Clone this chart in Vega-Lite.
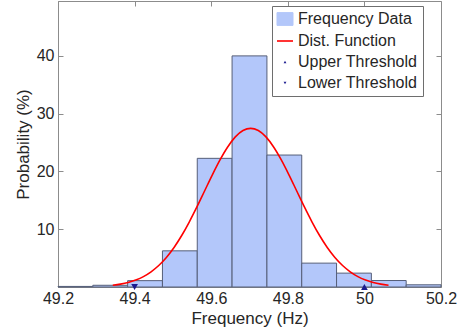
{
  "$schema": "https://vega.github.io/schema/vega-lite/v6.json",
  "width": 383,
  "height": 286,
  "autosize": {"type": "none"},
  "padding": {"left": 58, "top": 1, "right": 22, "bottom": 46},
  "background": "white",
  "config": {
    "font": "Liberation Sans",
    "view": {"stroke": "#8c8c8c", "strokeWidth": 1},
    "axis": {
      "grid": false,
      "domainColor": "#8c8c8c",
      "tickColor": "#8c8c8c",
      "labelFont": "Liberation Sans",
      "titleFont": "Liberation Sans",
      "labelFontSize": 16,
      "titleFontSize": 17,
      "titleFontWeight": "normal",
      "labelColor": "#262626",
      "titleColor": "#262626"
    },
    "legend": {
      "title": null,
      "orient": "none",
      "legendX": 214,
      "legendY": 5,
      "padding": 5,
      "strokeColor": "#6e6e6e",
      "fillColor": "white",
      "labelFont": "Liberation Sans",
      "labelFontSize": 16,
      "labelColor": "#262626",
      "labelOffset": 5,
      "rowPadding": 5,
      "symbolSize": 256
    }
  },
  "datasets": {
    "bars": [
      {"bin_start": 49.2, "bin_end": 49.2909, "pct": 0.1},
      {"bin_start": 49.2909, "bin_end": 49.3818, "pct": 0.3},
      {"bin_start": 49.3818, "bin_end": 49.4727, "pct": 1.1},
      {"bin_start": 49.4727, "bin_end": 49.5636, "pct": 6.26},
      {"bin_start": 49.5636, "bin_end": 49.6545, "pct": 22.27},
      {"bin_start": 49.6545, "bin_end": 49.7455, "pct": 40.0},
      {"bin_start": 49.7455, "bin_end": 49.8364, "pct": 22.84},
      {"bin_start": 49.8364, "bin_end": 49.9273, "pct": 4.13},
      {"bin_start": 49.9273, "bin_end": 50.0182, "pct": 2.4},
      {"bin_start": 50.0182, "bin_end": 50.1091, "pct": 1.12},
      {"bin_start": 50.1091, "bin_end": 50.2, "pct": 0.38}
    ],
    "curve": [
      {"f": 49.343, "p": 0.31}, {"f": 49.363, "p": 0.5}, {"f": 49.383, "p": 0.78},
      {"f": 49.403, "p": 1.21}, {"f": 49.423, "p": 1.8}, {"f": 49.443, "p": 2.63},
      {"f": 49.463, "p": 3.72}, {"f": 49.483, "p": 5.12}, {"f": 49.503, "p": 6.85},
      {"f": 49.523, "p": 8.91}, {"f": 49.543, "p": 11.29}, {"f": 49.563, "p": 13.9},
      {"f": 49.583, "p": 16.66}, {"f": 49.603, "p": 19.41}, {"f": 49.623, "p": 21.99},
      {"f": 49.643, "p": 24.23}, {"f": 49.663, "p": 25.98}, {"f": 49.683, "p": 27.08},
      {"f": 49.703, "p": 27.46}, {"f": 49.723, "p": 27.08}, {"f": 49.743, "p": 25.98},
      {"f": 49.763, "p": 24.23}, {"f": 49.783, "p": 21.99}, {"f": 49.803, "p": 19.41},
      {"f": 49.823, "p": 16.66}, {"f": 49.843, "p": 13.9}, {"f": 49.863, "p": 11.29},
      {"f": 49.883, "p": 8.91}, {"f": 49.903, "p": 6.85}, {"f": 49.923, "p": 5.12},
      {"f": 49.943, "p": 3.72}, {"f": 49.963, "p": 2.63}, {"f": 49.983, "p": 1.8},
      {"f": 50.003, "p": 1.21}, {"f": 50.023, "p": 0.78}, {"f": 50.043, "p": 0.5},
      {"f": 50.063, "p": 0.31}
    ],
    "thresholds": [
      {"f": 50.0, "p": 0, "series": "Upper Threshold"},
      {"f": 49.4, "p": 0, "series": "Lower Threshold"}
    ]
  },
  "resolve": {"axis": {"x": "independent", "y": "independent"}},
  "layer": [
    {
      "data": {"name": "bars"},
      "mark": {"type": "bar", "stroke": "#555e78", "strokeWidth": 1, "opacity": 1},
      "encoding": {
        "x": {
          "field": "bin_start", "type": "quantitative",
          "scale": {"domain": [49.2, 50.2], "nice": false, "zero": false},
          "axis": {"orient": "bottom", "title": "Frequency (Hz)", "values": [49.2, 49.4, 49.6, 49.8, 50, 50.2],
                   "format": "~g", "tickSize": -5, "labelPadding": 8, "titlePadding": 4, "labelFlush": false, "labelOverlap": false}
        },
        "x2": {"field": "bin_end"},
        "y": {
          "field": "pct", "type": "quantitative",
          "scale": {"domain": [0, 49.5], "nice": false},
          "axis": {"orient": "left", "title": "Probability (%)", "values": [10, 20, 30, 40],
                   "tickSize": -5, "labelPadding": 9, "titlePadding": 4}
        },
        "y2": {"datum": 0},
        "color": {
          "datum": "Frequency Data",
          "scale": {
            "domain": ["Frequency Data", "Dist. Function", "Upper Threshold", "Lower Threshold"],
            "range": ["#b3c7fa", "#ff0000", "#1a1a8e", "#1a1a8e"]
          },
          "legend": {
            "title": null,
            "labelExpr": "datum.label + '\u00a0\u00a0'",
            "encoding": {
              "symbols": {
                "shape": {"value": {"expr": "datum.value === 'Frequency Data' ? 'M-1,-0.8H1V0.8H-1Z' : datum.value === 'Dist. Function' ? 'stroke' : datum.value === 'Upper Threshold' ? 'triangle-up' : 'triangle-down'"}},
                "size": {"value": {"expr": "datum.value === 'Frequency Data' ? 256 : datum.value === 'Dist. Function' ? 256 : 8"}},
                "fill": {"value": {"expr": "datum.value === 'Frequency Data' ? '#b3c7fa' : datum.value === 'Dist. Function' ? 'transparent' : '#1a1a8e'"}},
                "stroke": {"value": {"expr": "datum.value === 'Frequency Data' ? '#555e78' : datum.value === 'Dist. Function' ? '#ff0000' : '#1a1a8e'"}},
                "strokeWidth": {"value": {"expr": "datum.value === 'Dist. Function' ? 1.6 : datum.value === 'Frequency Data' ? 1 : 0"}},
                "opacity": {"value": 1}
              }
            }
          }
        }
      }
    },
    {
      "data": {"name": "curve"},
      "mark": {"type": "line", "strokeWidth": 1.6, "interpolate": "monotone"},
      "encoding": {
        "x": {"field": "f", "type": "quantitative",
              "axis": {"orient": "top", "title": null, "labels": false, "domain": false, "values": [49.2, 49.4, 49.6, 49.8, 50, 50.2], "tickSize": -5}},
        "y": {"field": "p", "type": "quantitative",
              "axis": {"orient": "right", "title": null, "labels": false, "domain": false, "values": [10, 20, 30, 40], "tickSize": -5}},
        "color": {"datum": "Dist. Function"}
      }
    },
    {
      "data": {"name": "thresholds"},
      "mark": {"type": "point", "filled": true, "size": 45, "opacity": 1, "clip": false},
      "encoding": {
        "x": {"field": "f", "type": "quantitative", "axis": null},
        "y": {"field": "p", "type": "quantitative", "axis": null},
        "color": {"field": "series", "type": "nominal", "title": null},
        "shape": {"field": "series", "type": "nominal",
                  "scale": {"domain": ["Upper Threshold", "Lower Threshold"], "range": ["triangle-up", "triangle-down"]},
                  "legend": null}
      }
    }
  ]
}
